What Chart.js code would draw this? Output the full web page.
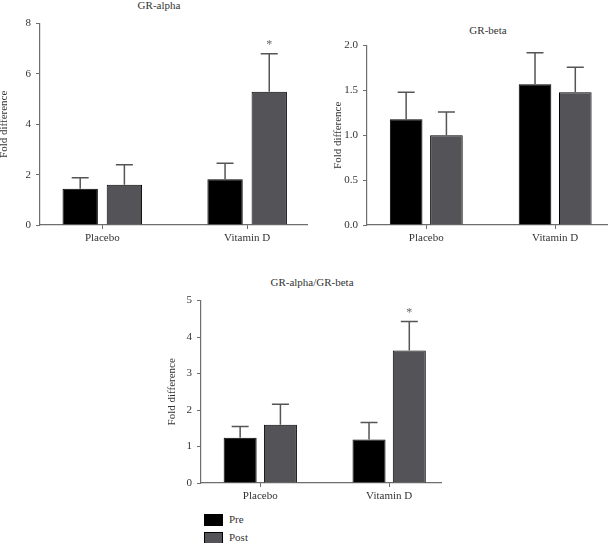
<!DOCTYPE html>
<html>
<head>
<meta charset="utf-8">
<title>GR-alpha / GR-beta fold difference</title>
<script src="https://cdn.jsdelivr.net/npm/chart.js@4/dist/chart.umd.min.js"></script>
<style>
    body { margin: 0; background: #fff; font-family: 'Liberation Serif', serif; color: #333; }
    #page { position: relative; width: 608px; height: 543px; overflow: hidden; }
    canvas { position: absolute; }
    .title { position: absolute; font-size: 11px; font-weight: 400; line-height: 13px; transform: translateX(-50%); white-space: nowrap; color: #333; }
    .legend-box { position: absolute; width: 17px; height: 10px; border: 1px solid #000; }
    .legend-text { position: absolute; font-size: 11px; font-weight: 400; line-height: 13px; color: #333; }
</style>
</head>
<body>
<div id="page">
    <div class="title" style="left:159px; top:-1px;">GR-alpha</div>
    <div class="title" style="left:488px; top:24px;">GR-beta</div>
    <div class="title" style="left:312px; top:276px;">GR-alpha/GR-beta</div>

    <canvas id="alphaChart" width="310" height="237" style="left:-2px; top:12px;"></canvas>
    <canvas id="betaChart" width="276" height="215" style="left:332px; top:34px;"></canvas>
    <canvas id="ratioChart" width="276" height="218" style="left:166px; top:289px;"></canvas>

    <div class="legend-box" style="left:204px; top:514px; background:#000;"></div>
    <div class="legend-text" style="left:229px; top:513px;">Pre</div>
    <div class="legend-box" style="left:204px; top:532px; background:#545458;"></div>
    <div class="legend-text" style="left:229px; top:531px;">Post</div>
</div>

<script>
// Groups and series
const categories = ['Placebo', 'Vitamin D'];
const seriesNames = ['Pre', 'Post'];

// GR-alpha (mean, upper SEM)
const alphaPre = [1.44, 1.82];
const alphaPreErr = [0.44, 0.63];
const alphaPost = [1.60, 5.29];
const alphaPostErr = [0.79, 1.51];
const alphaPostMarks = ['', '*'];
const alphaTicks = [0, 2, 4, 6, 8];

// GR-beta
const betaPre = [1.18, 1.57];
const betaPreErr = [0.30, 0.35];
const betaPost = [1.00, 1.48];
const betaPostErr = [0.26, 0.28];
const betaPostMarks = ['', ''];
const betaTicks = [0, 0.5, 1.0, 1.5, 2.0];

// GR-alpha/GR-beta
const ratioPre = [1.24, 1.19];
const ratioPreErr = [0.31, 0.47];
const ratioPost = [1.60, 3.63];
const ratioPostErr = [0.56, 0.80];
const ratioPostMarks = ['', '*'];
const ratioTicks = [0, 1, 2, 3, 4, 5];

const preColor = '#000000';
const postColor = '#545458';
const axisColor = '#6e6e6e';
const textColor = '#333333';
const font = { family: "'Liberation Serif', serif", size: 11, weight: 'normal' };

// Draws the upper error bars and the significance marks
const errorBars = {
    id: 'errorBars',
    afterDatasetsDraw(chart) {
        const ctx = chart.ctx;
        const yScale = chart.scales.y;
        chart.data.datasets.forEach((ds, i) => {
            const meta = chart.getDatasetMeta(i);
            meta.data.forEach((bar, j) => {
                const top = yScale.getPixelForValue(ds.data[j].y + ds.errors[j]);
                ctx.save();
                ctx.strokeStyle = '#555';
                ctx.lineWidth = 1.5;
                ctx.beginPath();
                ctx.moveTo(bar.x, bar.y);
                ctx.lineTo(bar.x, top);
                ctx.moveTo(bar.x - 8.5, top);
                ctx.lineTo(bar.x + 8.5, top);
                ctx.stroke();
                if (ds.marks && ds.marks[j]) {
                    ctx.fillStyle = '#666';
                    ctx.font = "12px 'Liberation Serif', serif";
                    ctx.textAlign = 'center';
                    ctx.textBaseline = 'bottom';
                    ctx.fillText(ds.marks[j], bar.x, top - 3);
                }
                ctx.restore();
            });
        });
    }
};

function toPoints(values) {
    return values.map((v, i) => ({ x: i, y: v }));
}

function makeChart(id, setup) {
    const ctx = document.getElementById(id).getContext('2d');
    return new Chart(ctx, {
        type: 'bar',
        data: {
            datasets: [
                {
                    label: seriesNames[0],
                    data: toPoints(setup.pre),
                    errors: setup.preErr,
                    backgroundColor: preColor,
                    borderColor: '#000',
                    borderWidth: 1,
                    categoryPercentage: setup.catPct,
                    barPercentage: setup.barPct
                },
                {
                    label: seriesNames[1],
                    data: toPoints(setup.post),
                    errors: setup.postErr,
                    marks: setup.marks,
                    backgroundColor: postColor,
                    borderColor: '#000',
                    borderWidth: 1,
                    categoryPercentage: setup.catPct,
                    barPercentage: setup.barPct
                }
            ]
        },
        options: {
            responsive: false,
            animation: false,
            devicePixelRatio: 1,
            layout: { padding: { top: 10, left: 0, right: 0, bottom: 0 } },
            plugins: {
                legend: { display: false },
                tooltip: { enabled: false }
            },
            scales: {
                x: {
                    type: 'linear',
                    min: setup.xMin,
                    max: setup.xMax,
                    offset: false,
                    afterBuildTicks: s => { s.ticks = categories.map((c, i) => ({ value: i })); },
                    afterFit: s => { s.height = 24; },
                    ticks: {
                        callback: v => categories[v],
                        font: font,
                        color: textColor,
                        padding: 3,
                        maxRotation: 0,
                        autoSkip: false
                    },
                    grid: {
                        offset: false,
                        drawOnChartArea: false,
                        drawTicks: true,
                        tickLength: 4,
                        color: axisColor
                    },
                    border: { color: axisColor, width: 1.2 }
                },
                y: {
                    min: 0,
                    max: setup.ticks[setup.ticks.length - 1],
                    afterBuildTicks: s => { s.ticks = setup.ticks.map(v => ({ value: v })); },
                    afterFit: s => { s.width = setup.yWidth; },
                    ticks: {
                        callback: v => v.toFixed(setup.decimals),
                        font: font,
                        color: textColor,
                        padding: 5
                    },
                    grid: {
                        drawOnChartArea: false,
                        drawTicks: true,
                        tickLength: 4,
                        color: axisColor
                    },
                    border: { color: axisColor, width: 1.2 },
                    title: {
                        display: true,
                        text: 'Fold difference',
                        font: font,
                        color: textColor,
                        padding: 0
                    }
                }
            }
        },
        plugins: [errorBars]
    });
}

document.addEventListener('DOMContentLoaded', () => {
    makeChart('alphaChart', {
        pre: alphaPre, preErr: alphaPreErr,
        post: alphaPost, postErr: alphaPostErr, marks: alphaPostMarks,
        ticks: alphaTicks, decimals: 0,
        xMin: -0.43, xMax: 1.42, yWidth: 42,
        catPct: 0.61, barPct: 0.8
    });
    makeChart('betaChart', {
        pre: betaPre, preErr: betaPreErr,
        post: betaPost, postErr: betaPostErr, marks: betaPostMarks,
        ticks: betaTicks, decimals: 1,
        xMin: -0.46, xMax: 1.41, yWidth: 35,
        catPct: 0.625, barPct: 0.81
    });
    makeChart('ratioChart', {
        pre: ratioPre, preErr: ratioPreErr,
        post: ratioPost, postErr: ratioPostErr, marks: ratioPostMarks,
        ticks: ratioTicks, decimals: 0,
        xMin: -0.46, xMax: 1.41, yWidth: 35,
        catPct: 0.625, barPct: 0.82
    });
});
</script>
</body>
</html>
